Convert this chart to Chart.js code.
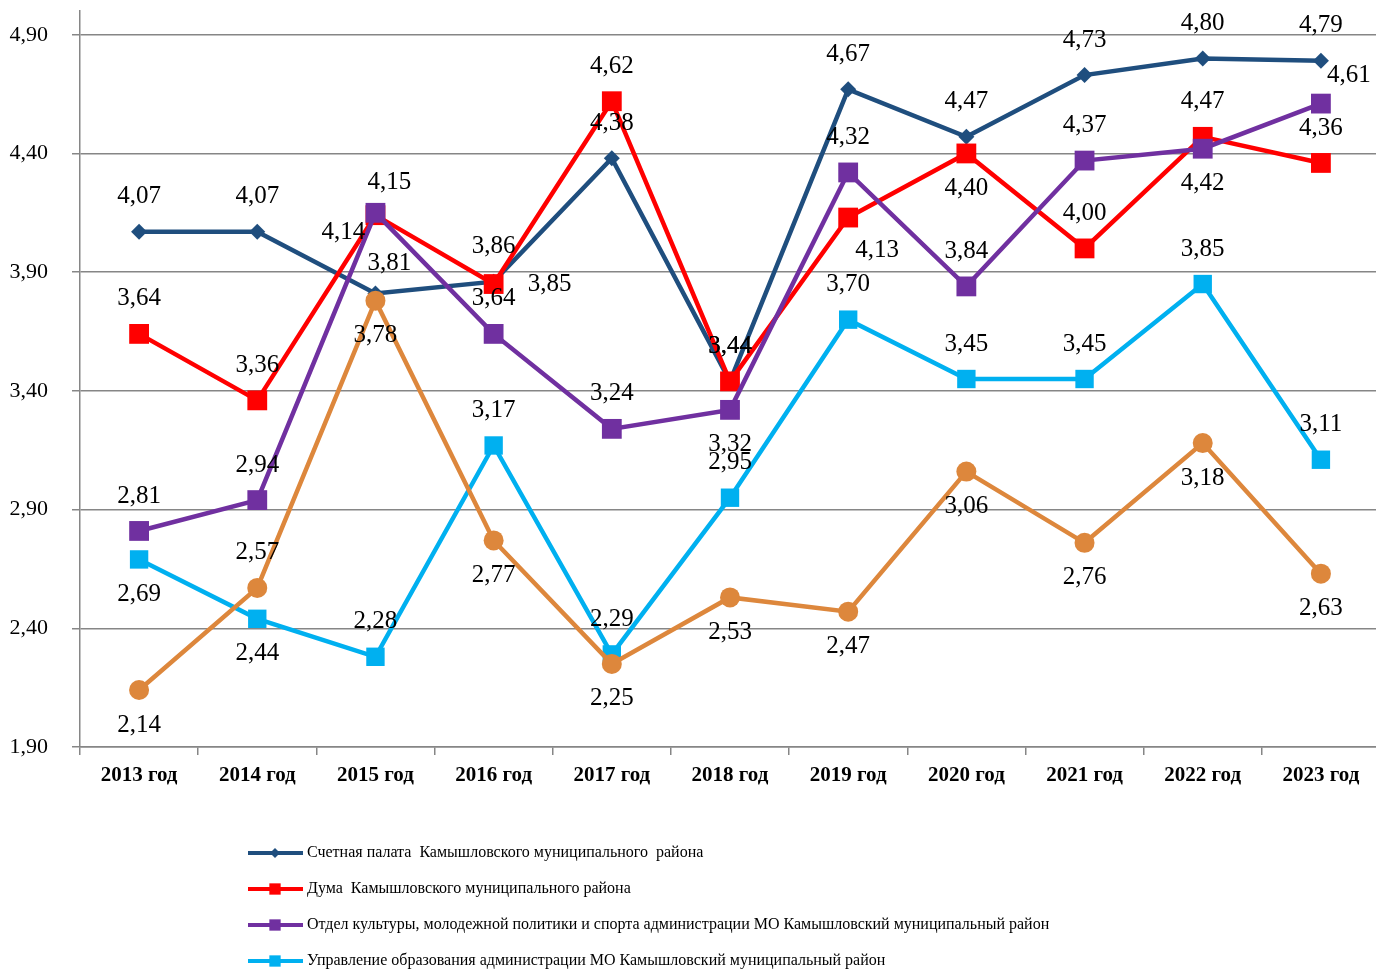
<!DOCTYPE html>
<html>
<head>
<meta charset="utf-8">
<script src="https://cdn.jsdelivr.net/npm/chart.js@4.4.0/dist/chart.umd.min.js"></script>
<style>
  body { margin: 0; background: #fff; overflow: hidden; }
  #chart { margin-top: -3px; display: block; }
</style>
</head>
<body>
<canvas id="chart" width="1394" height="972"></canvas>
<script>
// данные графика
var years = ['2013 год', '2014 год', '2015 год', '2016 год', '2017 год', '2018 год',
             '2019 год', '2020 год', '2021 год', '2022 год', '2023 год'];
var schetnaya = [4.07, 4.07, 3.81, 3.86, 4.38, 3.44, 4.67, 4.47, 4.73, 4.80, 4.79];
var duma      = [3.64, 3.36, 4.14, 3.85, 4.62, 3.44, 4.13, 4.40, 4.00, 4.47, 4.36];
var kultura   = [2.81, 2.94, 4.15, 3.64, 3.24, 3.32, 4.32, 3.84, 4.37, 4.42, 4.61];
var obrazov   = [2.69, 2.44, 2.28, 3.17, 2.29, 2.95, 3.70, 3.45, 3.45, 3.85, 3.11];
var finansy   = [2.14, 2.57, 3.78, 2.77, 2.25, 2.53, 2.47, 3.06, 2.76, 3.18, 2.63];
var yTicks = [1.90, 2.40, 2.90, 3.40, 3.90, 4.40, 4.90];

// где рисовать подписи значений: a - сверху, b - снизу, l - слева, r - справа
var offsets = {
    a: [0, -35], b: [0, 35], l: [-32, 17], r: [56, 0], br: [29, 33], ar: [28, -28], a2: [14, -30]
};

function fmt(v) {
    return v.toFixed(2).replace('.', ',');
}

var datasets = [
    {
        label: 'Счетная палата  Камышловского муниципального  района',
        data: schetnaya, borderColor: '#1F4E7E', backgroundColor: '#1F4E7E',
        pointStyle: 'rectRot', pointRadius: 8, order: 5,
        places: ['a', 'a', 'a2', 'a', 'a', 'a', 'a', 'a', 'a', 'a', 'a']
    },
    {
        label: 'Дума  Камышловского муниципального района',
        data: duma, borderColor: '#FF0000', backgroundColor: '#FF0000',
        pointStyle: 'rect', pointRadius: 14, order: 4,
        places: ['a', 'a', 'l', 'r', 'a', 'a', 'br', 'b', 'a', 'a', 'a']
    },
    {
        label: 'Отдел культуры, молодежной политики и спорта администрации МО Камышловский муниципальный район',
        data: kultura, borderColor: '#7030A0', backgroundColor: '#7030A0',
        pointStyle: 'rect', pointRadius: 14, order: 3,
        places: ['a', 'a', 'a2', 'a', 'a', 'b', 'a', 'a', 'a', 'b', 'ar']
    },
    {
        label: 'Управление образования администрации МО Камышловский муниципальный район',
        data: obrazov, borderColor: '#00B0F0', backgroundColor: '#00B0F0',
        pointStyle: 'rect', pointRadius: 13, order: 2,
        places: ['b', 'b', 'a', 'a', 'a', 'a', 'a', 'a', 'a', 'a', 'a']
    },
    {
        label: 'Финансовое управление администрации МО Камышловский муниципальный район',
        data: finansy, borderColor: '#DD873C', backgroundColor: '#DD873C',
        pointStyle: 'circle', pointRadius: 10, order: 1, noLegend: true,
        places: ['b', 'a', 'b', 'b', 'b', 'b', 'b', 'b', 'b', 'b', 'b']
    }
];

datasets.forEach(function (ds) {
    ds.borderWidth = 4.5;
    ds.tension = 0;
    ds.pointBorderWidth = 0;
    ds.pointHoverRadius = ds.pointRadius;
});

// подписи значений у точек
var valueLabels = {
    id: 'valueLabels',
    afterDatasetsDraw: function (chart) {
        var ctx = chart.ctx;
        ctx.save();
        ctx.font = '25px "Liberation Serif"';
        ctx.fillStyle = '#000';
        ctx.textAlign = 'center';
        ctx.textBaseline = 'middle';
        chart.data.datasets.forEach(function (ds, i) {
            var meta = chart.getDatasetMeta(i);
            meta.data.forEach(function (pt, j) {
                var off = offsets[ds.places[j]];
                ctx.fillText(fmt(ds.data[j]), pt.x + off[0], pt.y + off[1]);
            });
        });
        ctx.restore();
    }
};

// легенда столбиком снизу
var columnLegend = {
    id: 'columnLegend',
    afterDraw: function (chart) {
        var ctx = chart.ctx;
        var y = 856;
        ctx.save();
        chart.data.datasets.forEach(function (ds) {
            if (ds.noLegend) return;
            ctx.strokeStyle = ds.borderColor;
            ctx.lineWidth = 4;
            ctx.beginPath();
            ctx.moveTo(248, y);
            ctx.lineTo(303, y);
            ctx.stroke();
            ctx.fillStyle = ds.backgroundColor;
            Chart.helpers.drawPoint(ctx, {
                pointStyle: ds.pointStyle,
                radius: ds.pointStyle === 'rectRot' ? 5 : 8,
                rotation: 0,
                borderWidth: 0
            }, 275, y);
            ctx.fillStyle = '#000';
            ctx.font = '16px "Liberation Serif"';
            ctx.textBaseline = 'middle';
            ctx.fillText(ds.label, 307, y);
            y += 36;
        });
        ctx.restore();
    }
};

var ctx = document.getElementById('chart');
var chart = new Chart(ctx, {
    type: 'line',
    data: {
        labels: years,
        datasets: datasets
    },
    plugins: [valueLabels, columnLegend],
    options: {
        responsive: false,
        animation: false,
        layout: { padding: { top: 9, right: 0, left: 0, bottom: 0 } },
        plugins: {
            legend: { display: false },
            tooltip: { enabled: false }
        },
        scales: {
            x: {
                offset: true,
                afterFit: function (scale) {
                    scale.height = 222;
                    scale.paddingLeft = 0;
                    scale.paddingRight = 0;
                },
                grid: {
                    offset: true,
                    drawOnChartArea: false,
                    drawTicks: true,
                    tickLength: 8,
                    color: '#868686',
                    lineWidth: 1.5
                },
                border: { color: '#868686', width: 1.5 },
                ticks: {
                    color: '#000',
                    padding: 8,
                    font: { family: 'Liberation Serif', size: 21, weight: 'bold' },
                    maxRotation: 0
                }
            },
            y: {
                min: 1.9,
                max: 5.0,
                afterFit: function (scale) {
                    scale.width = 80;
                    scale.paddingTop = 0;
                    scale.paddingBottom = 0;
                },
                afterBuildTicks: function (scale) {
                    scale.ticks = yTicks.map(function (v) { return { value: v }; });
                },
                grid: {
                    color: '#868686',
                    lineWidth: 1.5,
                    tickLength: 8
                },
                border: { color: '#868686', width: 1.5 },
                ticks: {
                    color: '#000',
                    padding: 24,
                    font: { family: 'Liberation Serif', size: 22 },
                    callback: function (v) { return fmt(v); }
                }
            }
        }
    }
});
</script>
</body>
</html>
